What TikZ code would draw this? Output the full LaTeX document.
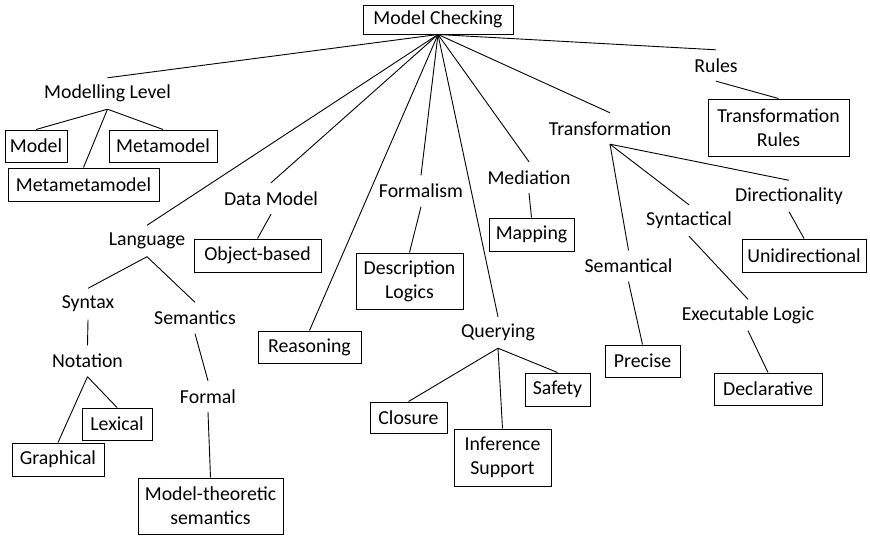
\documentclass[tikz,border=0pt]{standalone}
\usepackage{fontspec}
\setmainfont{Carlito}
\begin{document}
\begin{tikzpicture}[x=1pt,y=-1pt,
  every node/.style={font=\fontsize{19.8pt}{24pt}\selectfont, inner sep=0pt, align=center},
  concept/.style={minimum height=31pt},
  leaf/.style n args={2}{draw, line width=1pt, minimum width=#1pt, minimum height=#2pt},
  link/.style={line width=0.9pt}]
\useasboundingbox (0,0) rectangle (870,538);

% root
\node[leaf={150}{29}] (mc) at (438,19.5) {Model Checking};

% intermediate labels
\node[concept] (modlevel) at (107.5,93.5) {Modelling Level};
\node[concept] (rules) at (716,65.5) {Rules};
\node[concept] (transf) at (610,128.5) {Transformation};
\node[concept] (direct) at (789,196) {Directionality};
\node[concept] (syntactical) at (689,220.5) {Syntactical};
\node[concept] (semantical) at (628.5,266) {Semantical};
\node[concept] (execlogic) at (748,315) {Executable Logic};
\node[concept] (mediation) at (529,177.5) {Mediation};
\node[concept] (querying) at (498,332.5) {Querying};
\node[concept] (language) at (147,241) {Language};
\node[concept] (syntax) at (88,304) {Syntax};
\node[concept] (notation) at (87.5,361) {Notation};
\node[concept] (semantics) at (195,318) {Semantics};
\node[concept] (formal) at (208,396.5) {Formal};
\node[concept] (datamodel) at (271,198.5) {Data Model};
\node[concept] (formalism) at (421,191) {Formalism};

% boxed leaves
\node[leaf={62}{32}] (model) at (36,146) {Model};
\node[leaf={108}{32}] (metamodel) at (163,146) {Metamodel};
\node[leaf={151}{33}] (metameta) at (83.5,184.5) {Metametamodel};
\node[leaf={141}{57}] (trules) at (778.5,127.5) {Transformation\\Rules};
\node[leaf={75}{32}] (precise) at (642.5,361) {Precise};
\node[leaf={108}{32}] (declarative) at (768,389) {Declarative};
\node[leaf={124}{33}] (unidir) at (804,255.5) {Unidirectional};
\node[leaf={85}{33}] (mapping) at (531.5,234.5) {Mapping};
\node[leaf={77}{31}] (closure) at (408.5,417.5) {Closure};
\node[leaf={97}{57}] (inference) at (502.5,457.5) {Inference\\Support};
\node[leaf={65}{33}] (safety) at (557.5,389.5) {Safety};
\node[leaf={70}{32}] (lexical) at (117,424) {Lexical};
\node[leaf={92}{33}] (graphical) at (58,459.5) {Graphical};
\node[leaf={145}{56}] (modeltheo) at (210.5,506) {Model-theoretic\\semantics};
\node[leaf={127}{33}] (objbased) at (257.5,255.5) {Object-based};
\node[leaf={103}{32}] (reasoning) at (309.5,347) {Reasoning};
\node[leaf={107}{56}] (desclogic) at (409.5,281) {Description\\Logics};

% connectors from the root
\foreach \c in {modlevel,language,datamodel,reasoning,formalism,querying,mediation,transf,rules}
  \draw[link] (mc.south) -- (\c.north);

% connectors below
\foreach \p/\c in {modlevel/model, modlevel/metamodel, modlevel/metameta,
    rules/trules,
    transf/semantical, transf/syntactical, transf/direct,
    semantical/precise, syntactical/execlogic, execlogic/declarative,
    direct/unidir, mediation/mapping,
    querying/closure, querying/inference, querying/safety,
    language/syntax, language/semantics, syntax/notation,
    notation/graphical, notation/lexical,
    semantics/formal, formal/modeltheo,
    datamodel/objbased, formalism/desclogic}
  \draw[link] (\p.south) -- (\c.north);
\end{tikzpicture}
\end{document}
